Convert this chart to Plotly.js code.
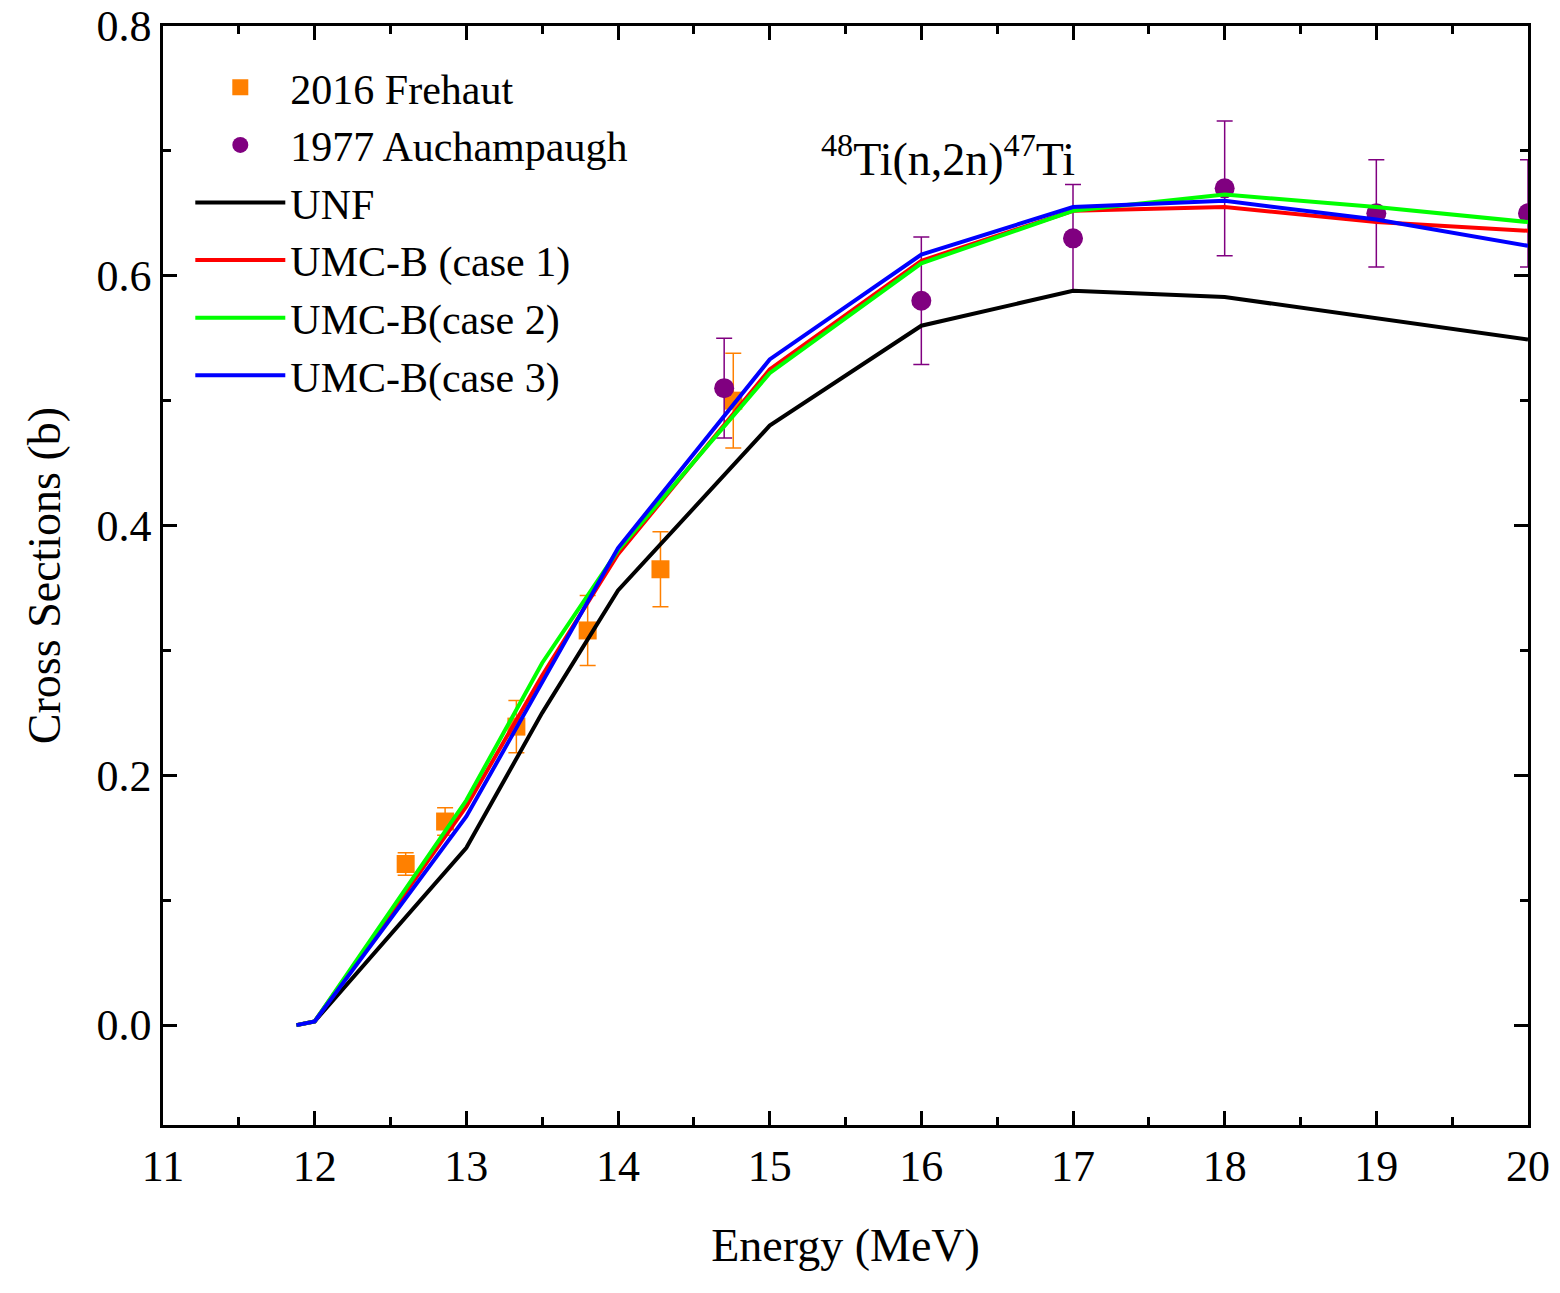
<!DOCTYPE html>
<html>
<head>
<meta charset="utf-8">
<script src="https://cdn.plot.ly/plotly-3.0.1.min.js"></script>
<style>body{margin:0;background:#fff}</style>
</head>
<body>
<div id="plot" style="width:1560px;height:1293px"></div>
<script>
// experimental data
var frehautE = [12.6, 12.86, 13.33, 13.8, 14.28, 14.76];
var frehautXS = [0.129, 0.163, 0.239, 0.316, 0.365, 0.50];
var frehautErr = [0.009, 0.011, 0.021, 0.028, 0.030, 0.038];

var auchE = [14.7, 16, 17, 18, 19, 20];
var auchXS = [0.51, 0.58, 0.63, 0.67, 0.65, 0.65];
var auchErr = [0.04, 0.051, 0.043, 0.054, 0.043, 0.043];

// calculations
var calcE = [11.88, 12, 13, 13.5, 14, 15, 16, 17, 18, 19, 20];
var unf = [0, 0.003, 0.142, 0.25, 0.348, 0.48, 0.56, 0.588, 0.583, 0.566, 0.549];
var case1 = [0, 0.003, 0.175, 0.28, 0.377, 0.525, 0.612, 0.652, 0.655, 0.643, 0.636];
var case2 = [0, 0.003, 0.18, 0.29, 0.38, 0.522, 0.61, 0.652, 0.665, 0.655, 0.643];
var case3 = [0, 0.003, 0.167, 0.275, 0.382, 0.533, 0.617, 0.655, 0.66, 0.645, 0.624];

var data = [
    {x: frehautE, y: frehautXS, name: '2016 Frehaut', mode: 'markers', type: 'scatter',
     marker: {symbol: 'square', size: 18, color: '#ff8000'},
     error_y: {type: 'data', array: frehautErr, color: '#ff8000', thickness: 1.5, width: 8}},
    {x: auchE, y: auchXS, name: '1977 Auchampaugh', mode: 'markers', type: 'scatter',
     marker: {symbol: 'circle', size: 20, color: '#800080'},
     error_y: {type: 'data', array: auchErr, color: '#800080', thickness: 1.5, width: 8}},
    {x: calcE, y: unf, name: 'UNF', mode: 'lines', line: {color: '#000', width: 4}},
    {x: calcE, y: case1, name: 'UMC-B (case 1)', mode: 'lines', line: {color: '#ff0000', width: 4}},
    {x: calcE, y: case2, name: 'UMC-B(case 2)', mode: 'lines', line: {color: '#00ff00', width: 4}},
    {x: calcE, y: case3, name: 'UMC-B(case 3)', mode: 'lines', line: {color: '#0000ff', width: 4}}
];

var serif = '"Liberation Serif", "Times New Roman", Times, serif';

var axisCommon = {
    showgrid: false, zeroline: false, showline: true, linecolor: '#000', linewidth: 2.5,
    mirror: 'allticks', ticks: 'inside', ticklen: 14, tickwidth: 2.5, tickcolor: '#000',
    tickfont: {size: 44, color: '#000', family: serif}
};

var layout = {
    font: {family: serif, color: '#000'},
    paper_bgcolor: '#fff', plot_bgcolor: '#fff',
    margin: {l: 163, r: 32, t: 26, b: 168},
    showlegend: true,
    legend: {x: 0.02, y: 0.975, xanchor: 'left', yanchor: 'top', bgcolor: 'rgba(0,0,0,0)',
             font: {size: 42, family: serif}, itemwidth: 90, tracegroupgap: 0},
    xaxis: Object.assign({}, axisCommon, {
        range: [11, 20], tick0: 11, dtick: 1,
        minor: {tick0: 11, dtick: 0.5, ticks: 'inside', ticklen: 8, tickwidth: 2.5, tickcolor: '#000'},
        title: {text: 'Energy (MeV)', font: {size: 46, family: serif}, standoff: 40}
    }),
    yaxis: Object.assign({}, axisCommon, {
        range: [-0.08, 0.8], tick0: 0, dtick: 0.2, tickformat: '.1f',
        minor: {tick0: 0, dtick: 0.1, ticks: 'inside', ticklen: 8, tickwidth: 2.5, tickcolor: '#000'},
        title: {text: 'Cross Sections (b)', font: {size: 46, family: serif}, standoff: 22}
    }),
    annotations: [{
        text: '<sup>48</sup>Ti(n,2n)<sup>47</sup>Ti', xref: 'paper', yref: 'paper',
        x: 0.575, y: 0.91, showarrow: false, font: {size: 46, family: serif}
    }]
};

Plotly.newPlot('plot', data, layout, {displayModeBar: false});
</script>
</body>
</html>
